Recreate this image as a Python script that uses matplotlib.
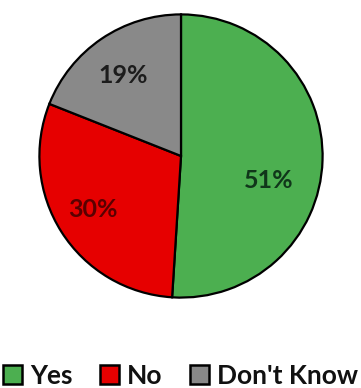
import matplotlib
matplotlib.use("Agg")
import matplotlib.pyplot as plt
from matplotlib.patches import Patch

categories = ["Yes", "No", "Don't Know"]
values = [51, 30, 19]
labels = ["51%", "30%", "19%"]
colors = ["#4caf50", "#e60000", "#898989"]
label_colors = ["#10361a", "#5a0000", "#1c1c1c"]
label_pos = [(0.62, -0.175), (-0.62, -0.38), (-0.41, 0.57)]

fig = plt.figure(figsize=(3.61, 3.88), dpi=100)
fig.patch.set_facecolor("white")
ax = fig.add_axes([38/361, 89/388, 286/361, 286/388])
wedges, _ = ax.pie(values, colors=colors, startangle=90, counterclock=False,
                   radius=1.0,
                   wedgeprops=dict(edgecolor="black", linewidth=1.6))
ax.set_xlim(-1.01, 1.01)
ax.set_ylim(-1.01, 1.01)
ax.set_aspect("equal")
ax.axis("off")

for txt, c, (x, y) in zip(labels, label_colors, label_pos):
    ax.text(x, y, txt, ha="center", va="center", color=c,
            fontsize=18, fontweight="bold", family="Lato")

handles = [Patch(facecolor=c, edgecolor="black", linewidth=1.8) for c in colors]
leg = fig.legend(handles, categories, loc="center", bbox_to_anchor=(0.5, 12/388),
                 ncol=3, frameon=False, handlelength=0.72, handleheight=0.72,
                 handletextpad=0.3, columnspacing=1.05, borderaxespad=0,
                 prop=dict(family="Lato", weight="bold", size=19))
for t in leg.get_texts():
    t.set_color("#111111")

fig.savefig("out.png", dpi=100, facecolor="white")
